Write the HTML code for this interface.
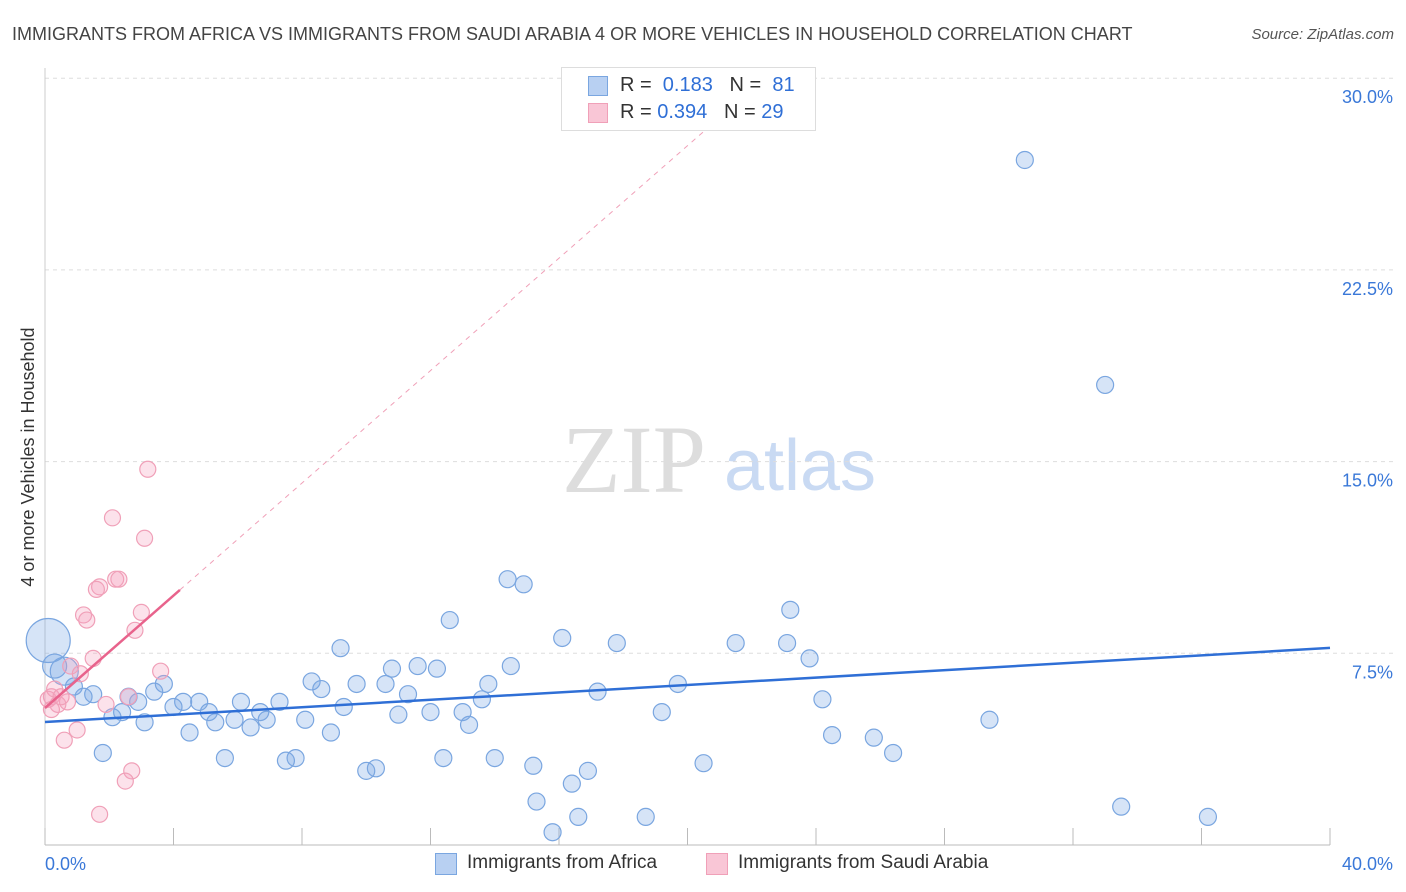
<!DOCTYPE html>
<html><head><meta charset="utf-8"><style>
body{margin:0;background:#fff;font-family:"Liberation Sans",sans-serif;}
#wrap{position:relative;width:1406px;height:892px;overflow:hidden;}
</style></head><body>
<div id="wrap">
<svg id="chart" width="1406" height="892">
<text x="12" y="40" font-size="18" fill="#444">IMMIGRANTS FROM AFRICA VS IMMIGRANTS FROM SAUDI ARABIA 4 OR MORE VEHICLES IN HOUSEHOLD CORRELATION CHART</text>
<text x="1394" y="39" font-size="15" fill="#555" font-style="italic" text-anchor="end">Source: ZipAtlas.com</text>
<text x="634" y="492" font-size="96" fill="#ddd" font-family="Liberation Serif" text-anchor="middle">ZIP</text>
<text x="800" y="490" font-size="72" fill="#c9daf3" text-anchor="middle">atlas</text>
<text transform="translate(34,457) rotate(-90)" font-size="18" fill="#333" text-anchor="middle">4 or more Vehicles in Household</text>
<g id="grid"></g><g id="pts"></g><g id="lines"></g>
</svg>
<div style="position:absolute;left:561px;top:67px;width:253px;height:62px;background:#fff;border:1px solid #ddd;font-size:20px;color:#333;">
 <div style="position:absolute;left:26px;top:8px;width:18px;height:18px;background:#b8d0f2;border:1px solid #7aa6e0;"></div>
 <div style="position:absolute;left:58px;top:6px;">R = &nbsp;<span style="color:#2f6fd6">0.183</span> &nbsp;&nbsp;N = &nbsp;<span style="color:#2f6fd6">81</span></div>
 <div style="position:absolute;left:26px;top:35px;width:18px;height:18px;background:#f9c6d6;border:1px solid #f0a0b8;"></div>
 <div style="position:absolute;left:58px;top:33px;">R = <span style="color:#2f6fd6">0.394</span> &nbsp;&nbsp;N = <span style="color:#2f6fd6">29</span></div>
</div>
<div style="position:absolute;left:435px;top:853px;width:20px;height:20px;background:#b8d0f2;border:1px solid #7aa6e0;"></div>
<div style="position:absolute;left:467px;top:852px;font-size:19px;color:#333;">Immigrants from Africa</div>
<div style="position:absolute;left:706px;top:853px;width:20px;height:20px;background:#f9c6d6;border:1px solid #f0a0b8;"></div>
<div style="position:absolute;left:738px;top:852px;font-size:19px;color:#333;">Immigrants from Saudi Arabia</div>
</div>
<script>
const blueX=[30.5,33.0,14.4,14.9,12.6,23.2,16.1,17.8,21.5,23.1,23.8,9.2,10.8,11.6,12.2,14.5,8.3,8.6,9.7,10.6,11.3,13.8,13.6,17.2,19.7,24.2,9.3,11.0,12.0,13.0,13.2,19.2,29.4,24.5,25.8,26.4,20.5,15.2,16.9,16.4,12.4,14.0,10.3,10.0,7.8,7.5,8.9,8.1,7.3,6.9,6.7,6.1,6.4,5.9,5.6,5.3,5.1,4.8,4.5,4.3,4.0,3.7,3.4,3.1,2.9,2.6,2.4,2.1,1.8,1.5,1.2,0.9,0.6,0.3,0.1,15.3,15.8,16.6,18.7,33.5,36.2];
const blueY=[26.8,18.0,10.4,10.2,8.8,9.2,8.1,7.9,7.9,7.9,7.3,7.7,6.9,7.0,6.9,7.0,6.4,6.1,6.3,6.3,5.9,6.3,5.7,6.0,6.3,5.7,5.4,5.1,5.2,5.2,4.7,5.2,4.9,4.3,4.2,3.6,3.2,3.1,2.9,2.4,3.4,3.4,3.0,2.9,3.4,3.3,4.4,4.9,5.6,4.9,5.2,5.6,4.6,4.9,3.4,4.8,5.2,5.6,4.4,5.6,5.4,6.3,6.0,4.8,5.6,5.8,5.2,5.0,3.6,5.9,5.8,6.2,6.8,7.0,8.0,1.7,0.5,1.1,1.1,1.5,1.1];
const blueBig={72:14,73:12,74:22};
const pinkX=[3.2,2.1,3.1,2.2,2.3,1.7,1.6,3.0,1.2,1.3,2.8,1.5,3.6,0.8,1.1,2.6,0.7,0.2,0.1,0.4,0.2,1.9,1.0,0.6,2.7,2.5,1.7,0.3,0.5];
const pinkY=[14.7,12.8,12.0,10.4,10.4,10.1,10.0,9.1,9.0,8.8,8.4,7.3,6.8,7.0,6.7,5.8,5.6,5.8,5.7,5.5,5.3,5.5,4.5,4.1,2.9,2.5,1.2,6.1,5.8];
const blueLine=[4.81,7.71];
const pinkLine=[5.36,1.10];
const yTicks=[7.5,15.0,22.5,30.0];
const xTicks=[0,4,8,12,16,20,24,28,32,36,40];
const ns="http://www.w3.org/2000/svg";
const X=v=>45+v/40*1285, Y=v=>845-v/7.5*191.7;
function mk(t,a,p){const e=document.createElementNS(ns,t);for(const k in a)e.setAttribute(k,a[k]);p.appendChild(e);return e;}
const g=document.getElementById('grid');
yTicks.forEach(t=>{const l=mk('line',{x1:45,x2:1394,y1:Y(t),y2:Y(t),stroke:'#ddd','stroke-dasharray':'4,4'},g);


const tx=mk('text',{x:1393,y:Y(t)+25,'font-size':18,fill:'#3a78d8','text-anchor':'end'},g);tx.textContent=t.toFixed(1)+'%';

});
const ax=mk('line',{x1:45,x2:1330,y1:845,y2:845,stroke:'#bbb'},g);


const ay=mk('line',{x1:45,x2:45,y1:68,y2:845,stroke:'#ccc'},g);


xTicks.forEach(t=>{const l=mk('line',{x1:X(t),x2:X(t),y1:828,y2:845,stroke:'#bbb'},g);

});
[[0,'start',45],[40,'end',1393]].forEach(([t,a,x])=>{const tx=mk('text',{x:x,y:870,'font-size':18,fill:'#3a78d8','text-anchor':a},g);tx.textContent=t.toFixed(1)+'%';

});
const p=document.getElementById('pts');
blueX.forEach((v,i)=>{const c=mk('circle',{cx:X(v),cy:Y(blueY[i]),r:blueBig[i]||8.5,fill:'rgba(120,165,230,0.3)',stroke:'#7aa6e0','stroke-width':1.2},p);

});
pinkX.forEach((v,i)=>{const c=mk('circle',{cx:X(v),cy:Y(pinkY[i]),r:8,fill:'rgba(245,160,190,0.3)',stroke:'#f0a0b8','stroke-width':1.2},p);

});
const L=document.getElementById('lines');
const bl=mk('line',{x1:X(0),y1:Y(blueLine[0]),x2:X(40),y2:Y(blueLine[1]),stroke:'#2f6fd6','stroke-width':2.5},L);


const xe=(30-pinkLine[0])/pinkLine[1];
const pd=mk('line',{x1:X(4.2),y1:Y(pinkLine[0]+pinkLine[1]*4.2),x2:X(xe),y2:Y(30),stroke:'#f0a0b8','stroke-width':1,'stroke-dasharray':'5,5'},L);


const pl=mk('line',{x1:X(0),y1:Y(pinkLine[0]),x2:X(4.2),y2:Y(pinkLine[0]+pinkLine[1]*4.2),stroke:'#e8638c','stroke-width':2.5},L);


</script>
</body></html>
